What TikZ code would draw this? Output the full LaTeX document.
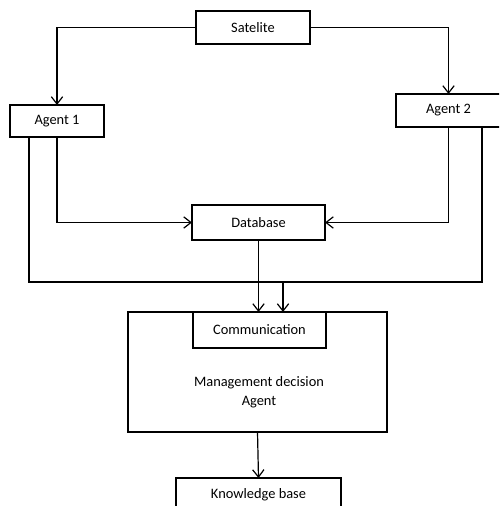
\documentclass[tikz,border=0pt]{standalone}
\usepackage{fontspec}
\setmainfont{Carlito}
\usetikzlibrary{arrows.meta}
\begin{document}
\begin{tikzpicture}[x=0.75pt,y=-0.75pt,
  box/.style={draw,line width=0.9pt,inner sep=0pt,outer sep=0pt,fill=white},
  conn/.style={line width=0.9pt},
  >={Straight Barb[length=5.5pt,width=8.5pt,line width=0.9pt]},
  font=\fontsize{10.8pt}{14.25pt}\selectfont]
\clip (0,0) rectangle (499,506);
\fill[white] (0,0) rectangle (499,506);
\node[box,minimum width=85.5pt,minimum height=24.75pt] (sat) at (253,27.5) {Satelite};
\node[box,minimum width=70.5pt,minimum height=24pt] (ag1) at (57,121) {Agent 1};
\node[box,minimum width=78.75pt,minimum height=24.75pt] (ag2) at (448.5,110.5) {Agent 2};
\node[box,minimum width=99.75pt,minimum height=26.25pt] (db) at (258.5,222.5) {Database};
\node[box,minimum width=194.25pt,minimum height=90pt] (mgmt) at (257.5,372) {};
\node[box,minimum width=99.75pt,minimum height=27pt] (comm) at (259.5,330) {Communication};
\node[align=center] (mtext) at (259,392) {Management decision\\Agent};
\node[box,minimum width=123.75pt,minimum height=24.75pt] (kb) at (258.5,494.5) {Knowledge base};
\coordinate (bl) at (29,282);
\coordinate (br) at (482,282);
\coordinate (j) at (283,282);
\draw[conn,->] (sat.west) -| (ag1.north);
\draw[conn,->] (sat.east) -| (ag2.north);
\draw[conn,->] (ag1.south) |- (db.west);
\draw[conn,->] (ag2.south) |- (db.east);
\draw[conn] (ag1.south -| bl) -- (bl) -- (br) -- (ag2.south -| br);
\draw[conn,->] (db.south) -- (db.south |- comm.north);
\draw[conn,->] (j) -- (j |- comm.north);
\draw[conn,->] (mgmt.south) -- (kb.north);
\end{tikzpicture}
\end{document}
